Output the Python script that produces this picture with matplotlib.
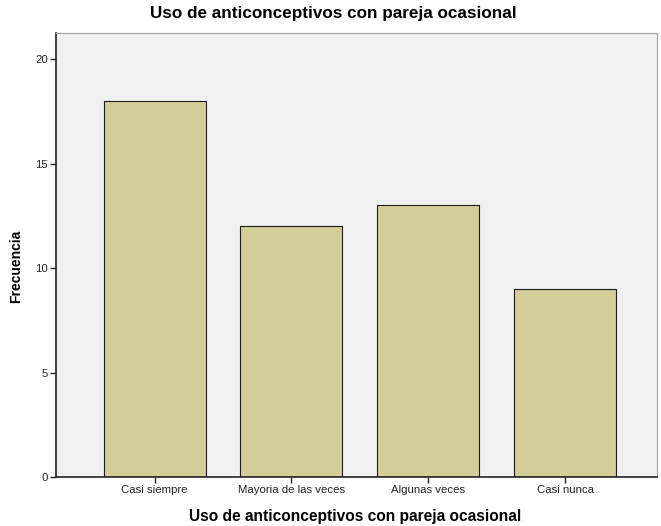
import matplotlib.pyplot as plt

plt.rcParams['font.family'] = ['Liberation Sans', 'DejaVu Sans']

# categorias e frecuencias
categorias = ['Casi siempre', 'Mayoria de las veces', 'Algunas veces', 'Casi nunca']
frecuencias = [18, 12, 13, 9]
yticks = [0, 5, 10, 15, 20]

fig = plt.figure(figsize=(6.61, 5.26), dpi=100)
ax = fig.add_axes([0.0847, 0.0932, 0.9093, 0.8438])
ax.set_facecolor('#F0F0F0')

x = range(len(categorias))
ax.bar(x, frecuencias, width=0.745, color='#D3CE97', edgecolor='#1A1A1A', linewidth=0.8)

ax.set_xlim(-0.72, 3.67)
ax.set_ylim(0, 21.25)
ax.set_xticks(list(x))
ax.set_xticklabels(categorias, fontsize=8.2)
ax.set_yticks(yticks)
ax.set_yticklabels([str(v) for v in yticks], fontsize=8.2)
ax.tick_params(axis='both', direction='out', length=4, width=1, colors='#222222', pad=2)

for s in ['top', 'right']:
    ax.spines[s].set_color('#A0A0A0')
for s in ['left', 'bottom']:
    ax.spines[s].set_color('#222222')
    ax.spines[s].set_linewidth(1.2)

fig.text(0.504, 0.975, 'Uso de anticonceptivos con pareja ocasional', fontsize=12.3,
         fontweight='bold', ha='center', va='center')
ax.set_xlabel('Uso de anticonceptivos con pareja ocasional', fontsize=11.2, fontweight='bold', va='center')
ax.xaxis.set_label_coords(0.498, -0.088)
ax.set_ylabel('Frecuencia', fontsize=10, fontweight='bold')
ax.yaxis.set_label_coords(-0.055, 0.475)

fig.savefig('out.png', dpi=100)
